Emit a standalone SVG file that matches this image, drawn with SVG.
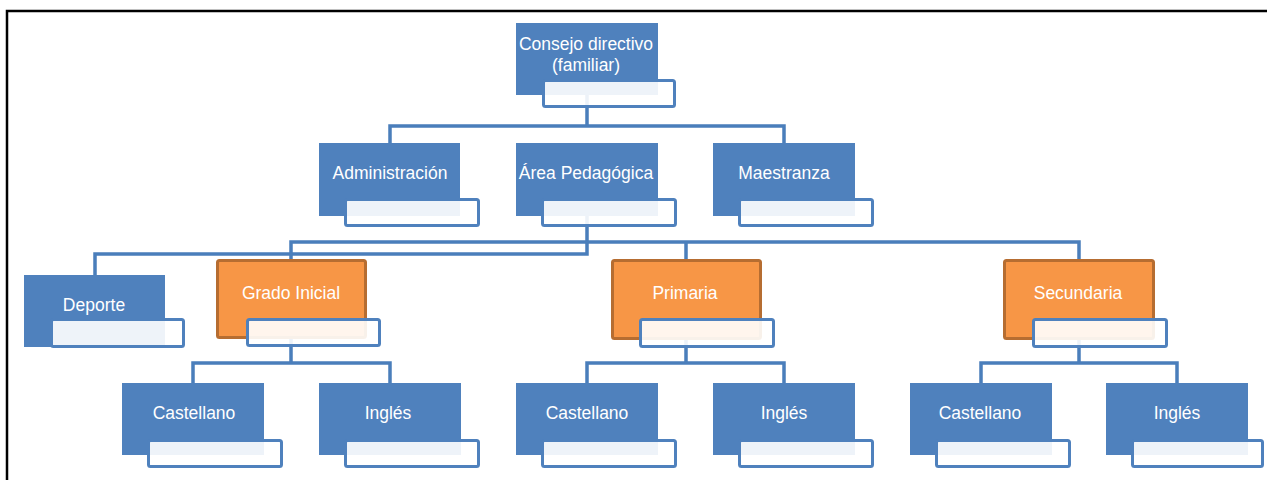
<svg xmlns="http://www.w3.org/2000/svg" width="1267" height="480" viewBox="0 0 1267 480">
<style>
.bg{fill:#ffffff}
.frame{fill:none;stroke:#000000;stroke-width:2.5}
.conn{fill:none;stroke:#4a7ebb;stroke-width:3.5}
.main{fill:#4f81bd}
.org{fill:#f79646;stroke:#b66d31;stroke-width:3}
.box{fill:#ffffff;fill-opacity:0.9;stroke:#4f81bd;stroke-width:3}
.t{font-family:"Liberation Sans",Arial,sans-serif;font-size:17.5px;fill:#ffffff;text-anchor:middle}
</style>
<rect class="bg" x="0" y="0" width="1267" height="480"/>
<path class="frame" d="M7,480 V11 H1267"/>
<g id="connectors">
<path class="conn" d="M587,95 V126 M390,143 V126 H784 V143"/>
<path class="conn" d="M587,216 V254 H95 V275"/>
<path class="conn" d="M291,259 V242 H1079 V259 M686,242 V259"/>
<path class="conn" d="M291,339 V363 M193,383 V363 H390 V383"/>
<path class="conn" d="M686,340 V363 M587,383 V363 H784 V383"/>
<path class="conn" d="M1079,340 V363 M981,383 V363 H1177 V383"/>
</g>
<g id="n-consejo">
<rect class="main" x="516" y="23" width="142" height="72"/>
<rect class="box" x="543.5" y="80.5" width="131" height="26" rx="2"/>
<text class="t" x="586" y="50">Consejo directivo</text>
<text class="t" x="586" y="71">(familiar)</text>
</g>
<g id="n-admin">
<rect class="main" x="319" y="143" width="141" height="73"/>
<rect class="box" x="345.5" y="199.5" width="133" height="26" rx="2"/>
<text class="t" x="390" y="179">Administración</text>
</g>
<g id="n-area">
<rect class="main" x="516" y="143" width="142" height="73"/>
<rect class="box" x="542.5" y="199.5" width="133" height="26" rx="2"/>
<text class="t" x="586" y="179">Área Pedagógica</text>
</g>
<g id="n-maestranza">
<rect class="main" x="713" y="143" width="142" height="73"/>
<rect class="box" x="739.5" y="199.5" width="133" height="26" rx="2"/>
<text class="t" x="784" y="179">Maestranza</text>
</g>
<g id="n-deporte">
<rect class="main" x="24" y="275" width="141" height="72"/>
<rect class="box" x="51.5" y="319.5" width="132" height="27" rx="2"/>
<text class="t" x="94" y="311">Deporte</text>
</g>
<g id="n-grado">
<rect class="org" x="217.5" y="260.5" width="148" height="77" rx="2"/>
<rect class="box" x="247.5" y="319.5" width="132" height="26" rx="2"/>
<text class="t" x="291" y="299">Grado Inicial</text>
</g>
<g id="n-primaria">
<rect class="org" x="612.5" y="260.5" width="148" height="78" rx="2"/>
<rect class="box" x="640.5" y="319.5" width="133" height="27" rx="2"/>
<text class="t" x="685" y="299">Primaria</text>
</g>
<g id="n-secundaria">
<rect class="org" x="1004.5" y="260.5" width="149" height="78" rx="2"/>
<rect class="box" x="1033.5" y="319.5" width="133" height="27" rx="2"/>
<text class="t" x="1078" y="299">Secundaria</text>
</g>
<g id="n-cast1">
<rect class="main" x="122" y="383" width="142" height="72"/>
<rect class="box" x="148.5" y="440.5" width="133" height="26" rx="2"/>
<text class="t" x="194" y="419">Castellano</text>
</g>
<g id="n-ing1">
<rect class="main" x="319" y="383" width="142" height="72"/>
<rect class="box" x="345.5" y="440.5" width="133" height="26" rx="2"/>
<text class="t" x="388" y="419">Inglés</text>
</g>
<g id="n-cast2">
<rect class="main" x="516" y="383" width="142" height="72"/>
<rect class="box" x="542.5" y="440.5" width="133" height="26" rx="2"/>
<text class="t" x="587" y="419">Castellano</text>
</g>
<g id="n-ing2">
<rect class="main" x="713" y="383" width="142" height="72"/>
<rect class="box" x="739.5" y="440.5" width="133" height="26" rx="2"/>
<text class="t" x="784" y="419">Inglés</text>
</g>
<g id="n-cast3">
<rect class="main" x="910" y="383" width="142" height="72"/>
<rect class="box" x="936.5" y="440.5" width="133" height="26" rx="2"/>
<text class="t" x="980" y="419">Castellano</text>
</g>
<g id="n-ing3">
<rect class="main" x="1106" y="383" width="142" height="72"/>
<rect class="box" x="1132.5" y="440.5" width="130" height="26" rx="2"/>
<text class="t" x="1177" y="419">Inglés</text>
</g>
</svg>
